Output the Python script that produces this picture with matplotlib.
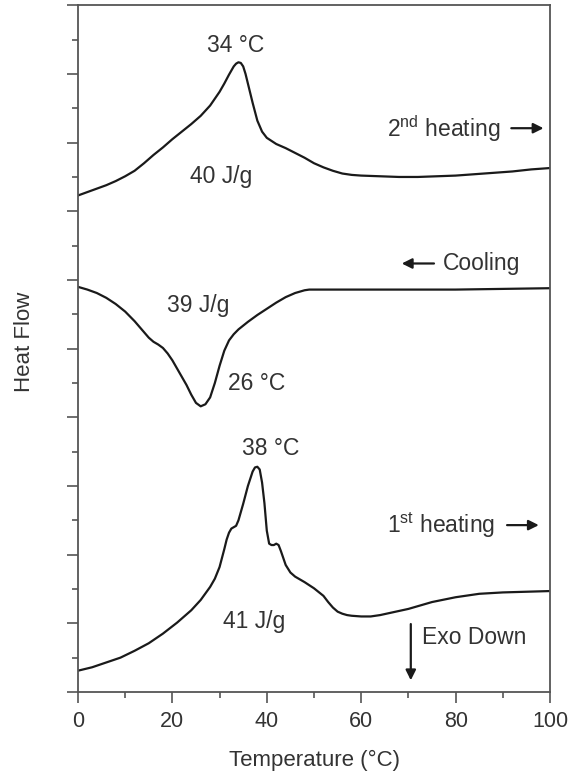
import matplotlib
matplotlib.use('Agg')
import matplotlib.pyplot as plt
from matplotlib.ticker import MultipleLocator, NullFormatter

plt.rcParams['font.family'] = ['Liberation Sans', 'DejaVu Sans']
plt.rcParams['mathtext.fontset'] = 'custom'
plt.rcParams['mathtext.rm'] = 'Liberation Sans'

# 2nd heating (top trace)
t_heat2 = [0, 2, 4, 6, 8, 10, 12, 14, 16, 18, 20, 22, 24, 26, 28, 30, 31, 32, 33, 33.5, 34,
           34.5, 35, 35.5, 36, 37, 38, 39, 40, 42, 44, 46, 48, 50, 52, 54, 56, 58, 60, 64,
           68, 72, 76, 80, 84, 88, 92, 96, 100]
hf_heat2 = [7.23, 7.28, 7.33, 7.38, 7.44, 7.51, 7.59, 7.70, 7.82, 7.93, 8.05, 8.16, 8.27,
            8.39, 8.54, 8.74, 8.86, 8.99, 9.11, 9.15, 9.17, 9.16, 9.11, 9.00, 8.86, 8.58,
            8.32, 8.16, 8.07, 7.98, 7.92, 7.85, 7.78, 7.70, 7.64, 7.59, 7.55, 7.53, 7.52,
            7.51, 7.50, 7.50, 7.51, 7.52, 7.54, 7.56, 7.58, 7.61, 7.63]

# cooling (middle trace)
t_cool = [0, 2, 4, 6, 8, 10, 12, 14, 15, 16, 17, 18, 19, 20, 21, 22, 23, 24, 25, 26, 27,
          28, 29, 30, 31, 32, 33, 34, 36, 38, 40, 42, 44, 46, 47, 48, 49, 50, 52, 56, 64,
          72, 80, 90, 100]
hf_cool = [5.90, 5.86, 5.81, 5.74, 5.65, 5.54, 5.40, 5.24, 5.16, 5.10, 5.06, 5.01, 4.93,
           4.83, 4.71, 4.59, 4.47, 4.33, 4.21, 4.16, 4.19, 4.29, 4.50, 4.75, 4.97, 5.12,
           5.21, 5.28, 5.39, 5.49, 5.58, 5.67, 5.75, 5.81, 5.83, 5.85, 5.86, 5.86, 5.86,
           5.86, 5.86, 5.86, 5.86, 5.87, 5.88]

# 1st heating (bottom trace)
t_heat1 = [0, 3, 6, 9, 12, 15, 18, 21, 24, 26, 28, 29, 30, 31, 31.5, 32, 32.5, 33, 33.5,
           34, 35, 36, 37, 37.5, 38, 38.5, 39, 39.5, 40, 40.5, 41, 41.5, 42, 42.5, 43, 44,
           45, 46, 48, 50, 52, 53, 54, 55, 56, 57, 58, 60, 62, 64, 66, 70, 75, 80, 85, 90,
           95, 100]
hf_heat1 = [0.31, 0.36, 0.43, 0.50, 0.60, 0.71, 0.85, 1.01, 1.19, 1.34, 1.53, 1.65, 1.82,
            2.08, 2.22, 2.32, 2.38, 2.40, 2.42, 2.50, 2.74, 3.00, 3.21, 3.27, 3.28, 3.24,
            3.05, 2.75, 2.35, 2.16, 2.14, 2.14, 2.16, 2.14, 2.05, 1.85, 1.74, 1.68, 1.60,
            1.51, 1.40, 1.31, 1.23, 1.17, 1.14, 1.12, 1.11, 1.10, 1.10, 1.12, 1.15, 1.21,
            1.31, 1.38, 1.43, 1.45, 1.46, 1.47]

txt = '#333333'
fig = plt.figure(figsize=(5.73, 7.77), dpi=100)
ax = fig.add_axes([0.136, 0.1094, 0.824, 0.8838])

for t, hf in [(t_heat2, hf_heat2), (t_cool, hf_cool), (t_heat1, hf_heat1)]:
    ax.plot(t, hf, color='#1a1a1a', lw=1.6, solid_joinstyle='round')

ax.set_xlim(0, 100)
ax.set_ylim(0, 10)
ax.xaxis.set_major_locator(MultipleLocator(20))
ax.xaxis.set_minor_locator(MultipleLocator(10))
ax.yaxis.set_major_locator(MultipleLocator(1))
ax.yaxis.set_minor_locator(MultipleLocator(0.5))
ax.yaxis.set_major_formatter(NullFormatter())
ax.tick_params(which='major', direction='out', length=8, width=1.2, color='#555555',
               labelsize=15.5, labelcolor=txt, pad=6)
ax.tick_params(which='minor', direction='out', length=4, width=1.2, color='#555555')
for s in ax.spines.values():
    s.set_color('#555555')
    s.set_linewidth(1.3)

ax.set_xlabel('Temperature (°C)', fontsize=16, color=txt)
ax.xaxis.set_label_coords(0.5, -0.085)
ax.set_ylabel('Heat Flow', fontsize=16, color=txt)
ax.yaxis.set_label_coords(-0.09, 0.51)

fs = 16.5
arrow = dict(arrowstyle='-|>', color='#1a1a1a', lw=1.6, mutation_scale=15)
ax.text(33.3, 9.42, '34 °C', fontsize=fs, color=txt, ha='center', va='center')
ax.text(30.3, 7.50, '40 J/g', fontsize=fs, color=txt, ha='center', va='center')
ax.text(65.4, 8.21, r'2$^{\mathrm{nd}}$ heating', fontsize=fs, color=txt, ha='left', va='center')
ax.annotate('', xy=(99.2, 8.21), xytext=(91.2, 8.21), arrowprops=arrow)
ax.text(77.3, 6.24, 'Cooling', fontsize=fs, color=txt, ha='left', va='center')
ax.annotate('', xy=(68.0, 6.24), xytext=(76.0, 6.24), arrowprops=arrow)
ax.text(25.4, 5.63, '39 J/g', fontsize=fs, color=txt, ha='center', va='center')
ax.text(37.9, 4.49, '26 °C', fontsize=fs, color=txt, ha='center', va='center')
ax.text(40.8, 3.55, '38 °C', fontsize=fs, color=txt, ha='center', va='center')
ax.text(37.3, 1.03, '41 J/g', fontsize=fs, color=txt, ha='center', va='center')
ax.text(65.4, 2.43, r'1$^{\mathrm{st}}$ heating', fontsize=fs, color=txt, ha='left', va='center')
ax.annotate('', xy=(98.2, 2.43), xytext=(90.3, 2.43), arrowprops=arrow)
ax.annotate('', xy=(70.5, 0.13), xytext=(70.5, 1.03), arrowprops=arrow)
ax.text(72.8, 0.80, 'Exo Down', fontsize=fs, color=txt, ha='left', va='center')

fig.savefig('out.png', dpi=100)
